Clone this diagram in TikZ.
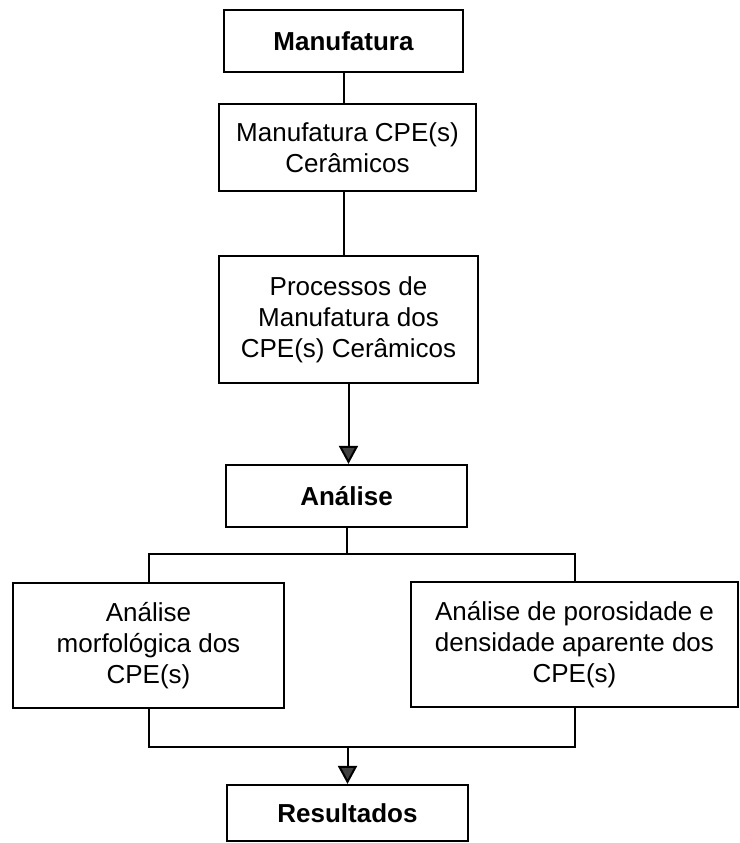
\documentclass[tikz,border=0pt]{standalone}
\usepackage{fontspec}
\setmainfont{Liberation Sans}
\usetikzlibrary{arrows.meta}
\tikzset{
  box/.style={draw, line width=1.1pt, align=center, inner sep=0pt, font=\fontsize{13}{15.5}\selectfont},
  link/.style={line width=1pt},
  arr/.style={link, -{Triangle[length=9pt,width=9.5pt,fill=black!75]}}
}
\begin{document}
\begin{tikzpicture}[x=0.5pt,y=-0.5pt]
  \useasboundingbox (0,0) rectangle (740,843);
  \node[box, minimum width=119.5pt, minimum height=31pt] (manuf) at (343.5,41) {\bfseries Manufatura};
  \node[box, minimum width=128.5pt, minimum height=43.5pt] (cpe) at (347.5,147.5) {Manufatura CPE(s)\\Cerâmicos};
  \node[box, minimum width=129.5pt, minimum height=63.5pt] (proc) at (348.5,319.5) {Processos de\\Manufatura dos\\CPE(s) Cerâmicos};
  \node[box, minimum width=120.5pt, minimum height=31pt] (ana) at (346.5,496) {\bfseries Análise};
  \node[box, minimum width=135.5pt, minimum height=62.5pt] (morf) at (148.5,645.5) {Análise\\morfológica dos\\CPE(s)};
  \node[box, minimum width=163.5pt, minimum height=62.5pt] (poro) at (574.5,644.5) {Análise de porosidade e\\densidade aparente dos\\CPE(s)};
  \node[box, minimum width=120.5pt, minimum height=28pt] (res) at (347.5,813) {\bfseries Resultados};
  \coordinate (split) at (346.5,554);
  \coordinate (merge) at (347.5,747);
  \draw[link] (manuf) -- (manuf |- cpe.north);
  \draw[link] (cpe.south -| manuf) -- (manuf |- proc.north);
  \draw[arr] (proc) -- (proc |- ana.north);
  \draw[link] (ana.south) -- (split);
  \draw[link] (morf.north) |- (split) -| (poro.north);
  \draw[link] (morf.south) |- (merge) -| (poro.south);
  \draw[arr] (merge) -- (res.north);
\end{tikzpicture}
\end{document}
